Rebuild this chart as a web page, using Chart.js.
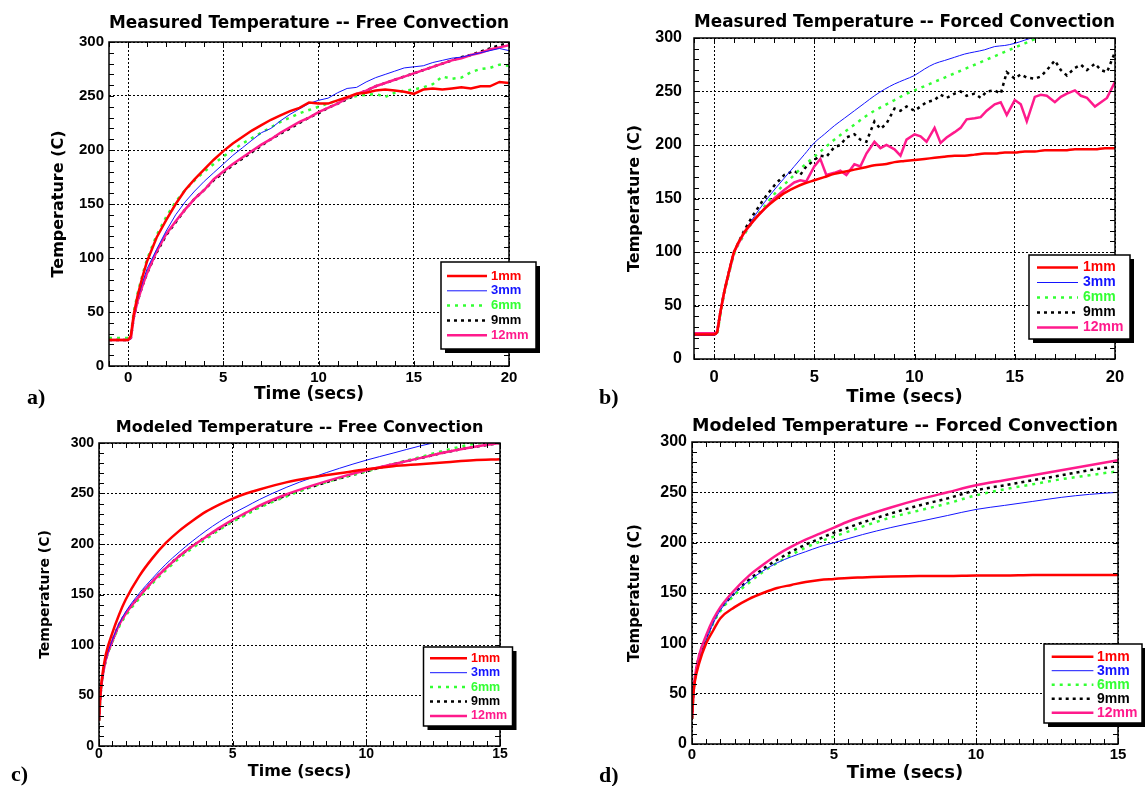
<!DOCTYPE html>
<html>
<head>
<meta charset="utf-8">
<script src="https://cdn.jsdelivr.net/npm/chart.js@4.4.0/dist/chart.umd.min.js"></script>
<style>
  html, body { margin: 0; padding: 0; background: #fff; }
  body { width: 1145px; height: 786px; position: relative; overflow: hidden; }
  .panel { position: absolute; }
  .tag { position: absolute; font: bold 22px "Liberation Serif", "Times New Roman", serif; line-height: 22px; color: #000; }
</style>
</head>
<body>
<div class="panel" style="left:0;top:0;width:560px;height:410px"><canvas id="chartA"></canvas></div>
<div class="panel" style="left:570px;top:0;width:575px;height:410px"><canvas id="chartB"></canvas></div>
<div class="panel" style="left:0;top:410px;width:560px;height:376px"><canvas id="chartC"></canvas></div>
<div class="panel" style="left:570px;top:410px;width:575px;height:376px"><canvas id="chartD"></canvas></div>
<div class="tag" style="left:27px;top:386px">a)</div>
<div class="tag" style="left:599px;top:386px">b)</div>
<div class="tag" style="left:11px;top:763px">c)</div>
<div class="tag" style="left:599px;top:764px">d)</div>
<script>
// series names (thermocouple depth)
const seriesLabels = ['1mm', '3mm', '6mm', '9mm', '12mm'];

// tick labels
const yTicks = [0, 50, 100, 150, 200, 250, 300];
const xTicksMeasured = [0, 5, 10, 15, 20];
const xTicksModeled = [0, 5, 10, 15];

// --- a) measured, free convection ---
const timeA = [-1, 0, 0.15, 0.3, 0.5, 0.75, 1, 1.5, 2, 2.5, 3, 3.5, 4, 4.5, 5, 5.5, 6, 6.5, 7, 7.5, 8, 8.5, 9, 9.5,
  10, 10.5, 11, 11.5, 12, 12.5, 13, 13.5, 14, 14.5, 15, 15.5, 16, 16.5, 17, 17.5, 18, 18.5, 19, 19.5, 20];
const freeMeas1mm = [24, 24, 28, 48, 65, 82, 97, 119, 135, 150, 163, 173, 182, 191, 199, 206, 212, 218, 223, 228, 232, 236, 239, 244,
  243, 243, 246, 249, 252, 253, 255, 256, 255, 254, 252, 256, 257, 256, 257, 258, 257, 259, 259, 263, 262];
const freeMeas3mm = [24, 24, 27, 46, 62, 77, 90, 108, 125, 140, 152, 162, 171, 179, 187, 195, 202, 209, 216, 220, 227, 233, 238, 243,
  246, 248, 253, 257, 258, 263, 267, 270, 273, 276, 277, 278, 281, 283, 285, 286, 288, 290, 292, 294, 292];
const freeMeas6mm = [26, 26, 29, 50, 67, 84, 99, 121, 138, 152, 163, 172, 180, 187, 194, 200, 206, 211, 216, 221, 226, 230, 234, 237,
  240, 243, 246, 248, 250, 251, 252, 249, 253, 255, 256, 258, 261, 268, 266, 267, 272, 275, 276, 279, 278];
const freeMeas9mm = [24, 24, 26, 45, 60, 74, 86, 105, 121, 133, 145, 155, 163, 172, 179, 186, 192, 198, 204, 210, 215, 220, 225, 230,
  234, 239, 243, 247, 251, 255, 259, 262, 265, 268, 271, 274, 277, 280, 283, 286, 288, 291, 294, 297, 299];
const freeMeas12mm = [24, 24, 26, 45, 60, 74, 86, 106, 122, 134, 145, 155, 163, 173, 180, 187, 193, 199, 205, 210, 216, 221, 226, 230,
  235, 239, 243, 248, 252, 255, 259, 262, 265, 268, 271, 274, 277, 280, 283, 285, 288, 290, 293, 295, 297];

// --- b) measured, forced convection ---
const timeB = timeA;
const forcedMeas1mm = [23, 23, 25, 42, 62, 82, 100, 118, 130, 140, 148, 155, 160, 164, 167, 170, 173, 175, 177, 179, 181, 182, 184, 185,
  186, 187, 188, 189, 190, 190, 191, 192, 192, 193, 193, 194, 194, 195, 195, 195, 196, 196, 196, 197, 197];
const forcedMeas3mm = [22, 22, 25, 42, 62, 82, 100, 118, 133, 146, 158, 169, 180, 191, 202, 210, 218, 225, 232, 239, 246, 252, 257, 261,
  265, 271, 276, 279, 282, 285, 287, 289, 292, 293, 295, 298, 301, null, null, null, null, null, null, null, null];
const forcedMeas6mm = [23, 23, 24, 40, 60, 80, 98, 116, 130, 142, 154, 163, 172, 181, 189, 197, 205, 212, 219, 226, 232, 237, 242, 247,
  251, 255, 259, 263, 267, 271, 275, 279, 283, 287, 291, 295, 299, 303, null, null, null, null, null, null, null];
const timeBNoisy = [-1, 0, 0.15, 0.3, 0.5, 0.75, 1, 1.5, 2, 2.5, 3, 3.5, 4,
  4.3, 4.6, 5, 5.3, 5.6, 6, 6.3, 6.6, 7, 7.3, 7.6, 8, 8.3, 8.6, 9, 9.3, 9.6, 10, 10.3, 10.6, 11, 11.3, 11.6, 12,
  12.3, 12.6, 13, 13.3, 13.6, 14, 14.3, 14.6, 15, 15.3, 15.6, 16, 16.3, 16.6, 17, 17.3, 17.6, 18, 18.3, 18.6, 19, 19.3, 19.6, 20];
const forcedMeas9mm = [23, 23, 25, 42, 62, 82, 100, 120, 136, 150, 162, 172, 176,
  172, 180, 186, 190, 189, 198, 200, 207, 210, 205, 203, 222, 215, 220, 234, 232, 236, 232, 236, 240, 242, 247, 244, 248,
  250, 246, 248, 244, 250, 251, 248, 268, 262, 266, 263, 262, 264, 270, 279, 270, 265, 272, 275, 270, 276, 270, 268, 287];
const forcedMeas12mm = [24, 24, 25, 42, 62, 82, 100, 118, 130, 140, 150, 158, 165,
  167, 166, 180, 187, 172, 174, 176, 172, 182, 180, 192, 203, 197, 200, 196, 190, 205, 210, 208, 203, 216, 202, 207, 212,
  216, 224, 225, 226, 232, 238, 240, 228, 242, 238, 222, 245, 247, 246, 240, 245, 248, 251, 246, 244, 236, 240, 244, 259];

// --- c) modeled, free convection ---
const timeC = [0, 0.05, 0.1, 0.25, 0.5, 0.75, 1, 1.5, 2, 2.5, 3, 3.5, 4, 4.5, 5, 5.5, 6, 7, 8, 9, 10, 11, 12, 13, 14, 15];
const freeModel1mm = [25, 50, 65, 90, 112, 130, 145, 168, 186, 201, 213, 223, 232, 239, 245, 250, 254, 261, 266, 270, 274, 277, 279, 281, 283, 284];
const freeModel3mm = [25, 48, 62, 85, 105, 121, 133, 151, 166, 180, 192, 203, 213, 222, 230, 237, 244, 256, 266, 275, 283, 290, 297, 303, null, null];
const freeModel6mm = [25, 48, 62, 84, 103, 118, 129, 146, 161, 174, 186, 196, 205, 214, 222, 229, 236, 247, 257, 265, 272, 279, 286, 293, 299, 302];
const freeModel9mm = [25, 48, 62, 85, 104, 120, 131, 148, 163, 176, 188, 198, 207, 215, 223, 230, 237, 248, 257, 265, 272, 279, 285, 291, 296, 300];
const freeModel12mm = [25, 48, 62, 85, 104, 120, 131, 148, 163, 176, 188, 198, 207, 216, 224, 231, 238, 249, 258, 266, 273, 279, 285, 291, 296, 300];

// --- d) modeled, forced convection ---
const timeD = timeC;
const forcedModel1mm = [25, 50, 62, 80, 100, 113, 125, 136, 144, 150, 155, 158, 161, 163, 164, 165, 165.5, 166.5, 167, 167, 167.5, 167.5, 168, 168, 168, 168];
const forcedModel3mm = [25, 48, 62, 82, 103, 120, 133, 150, 162, 172, 180, 186, 191, 196, 200, 204, 208, 215, 221, 227, 233, 237, 241, 245, 248, 250];
const forcedModel6mm = [25, 49, 64, 86, 104, 120, 132, 148, 160, 171, 180, 188, 195, 201, 206, 211, 216, 225, 232, 239, 247, 253, 258, 263, 267, 271];
const forcedModel9mm = [25, 50, 65, 87, 106, 122, 134, 150, 163, 174, 183, 191, 198, 204, 210, 215, 220, 229, 237, 244, 252, 257, 262, 267, 272, 276];
const forcedModel12mm = [25, 50, 66, 88, 108, 124, 136, 153, 167, 178, 188, 196, 203, 209, 215, 221, 226, 235, 243, 250, 257, 262, 267, 272, 277, 282];

// line styles per series
const seriesColors = ['#ff0000', '#1414ff', '#33ff33', '#000000', '#ff1a8c'];
const seriesWidths = [2.5, 1, 2.5, 2.5, 2.5];
const seriesDash = [[], [], [3, 5], [3, 4], []];
const seriesOrder = [1, 2, 4, 5, 3];

const titleFont = '"DejaVu Sans", Verdana, sans-serif';
const tickFont = '"Liberation Sans", Arial, sans-serif';

function lineSet(i, t, v, smooth) {
  return {
    label: seriesLabels[i],
    data: t.map((x, k) => ({ x: x, y: v[k] })),
    borderColor: seriesColors[i],
    borderWidth: seriesWidths[i],
    borderDash: seriesDash[i],
    pointRadius: 0,
    fill: false,
    order: seriesOrder[i],
    cubicInterpolationMode: smooth ? 'monotone' : 'default',
    tension: 0,
    spanGaps: false,
    clip: 0
  };
}

// frame, inward minor ticks and the boxed legend
const framePlugin = {
  id: 'frame',
  afterDatasetsDraw(chart, args, opts) {
    const { ctx, chartArea: a, scales: { x, y } } = chart;
    ctx.save();
    ctx.setLineDash([]);
    ctx.strokeStyle = '#000';
    ctx.lineWidth = 1;
    ctx.beginPath();
    const nx = Math.round((x.max - x.min) / opts.xMinor);
    for (let k = 0; k <= nx; k++) {
      const px = Math.round(x.getPixelForValue(x.min + k * opts.xMinor)) + 0.5;
      ctx.moveTo(px, a.bottom); ctx.lineTo(px, a.bottom - 5);
      ctx.moveTo(px, a.top); ctx.lineTo(px, a.top + 5);
    }
    const ny = Math.round((y.max - y.min) / opts.yMinor);
    for (let k = 0; k <= ny; k++) {
      const py = Math.round(y.getPixelForValue(y.min + k * opts.yMinor)) + 0.5;
      ctx.moveTo(a.left, py); ctx.lineTo(a.left + 5, py);
      ctx.moveTo(a.right, py); ctx.lineTo(a.right - 5, py);
    }
    ctx.stroke();
    ctx.lineWidth = 1.5;
    ctx.strokeRect(a.left, a.top, a.right - a.left, a.bottom - a.top);
    ctx.restore();
  },
  afterDraw(chart, args, opts) {
    const L = opts.legend;
    const ctx = chart.ctx;
    ctx.save();
    ctx.fillStyle = '#000';
    ctx.fillRect(L.x + 4, L.y + 4, L.w, L.h);
    ctx.fillStyle = '#fff';
    ctx.fillRect(L.x, L.y, L.w, L.h);
    ctx.strokeStyle = '#000';
    ctx.lineWidth = 1.5;
    ctx.strokeRect(L.x, L.y, L.w, L.h);
    ctx.font = 'bold ' + L.font + 'px ' + tickFont;
    ctx.textBaseline = 'middle';
    chart.data.datasets.forEach((ds, i) => {
      const yy = L.y + L.row0 + i * L.step;
      ctx.strokeStyle = ds.borderColor;
      ctx.lineWidth = ds.borderWidth;
      ctx.setLineDash(ds.borderDash);
      ctx.beginPath();
      ctx.moveTo(L.x + L.line0, yy);
      ctx.lineTo(L.x + L.line1, yy);
      ctx.stroke();
      ctx.fillStyle = ds.borderColor;
      ctx.fillText(ds.label, L.x + L.text, yy);
    });
    ctx.restore();
  }
};

function buildChart(id, p, datasets) {
  return new Chart(document.getElementById(id), {
    type: 'line',
    data: { datasets: datasets },
    options: {
      animation: false,
      responsive: true,
      maintainAspectRatio: false,
      layout: { padding: { left: 0, right: p.padRight, top: 0, bottom: 0 } },
      plugins: {
        legend: { display: false },
        tooltip: { enabled: false },
        title: {
          display: true, text: p.title, fullSize: false, color: '#000',
          font: { family: titleFont, size: p.titleSize, weight: 'bold', lineHeight: 1.2 },
          padding: { top: p.titleTop, bottom: p.titleBottom }
        },
        frame: { xMinor: p.xMinor, yMinor: 10, legend: p.legend }
      },
      scales: {
        x: {
          type: 'linear', min: p.xMin, max: p.xMax,
          afterBuildTicks: s => { s.ticks = p.xTicks.map(v => ({ value: v })); },
          afterFit: s => { s.height = p.xHeight; },
          grid: { color: '#000', lineWidth: 1, drawTicks: false },
          border: { display: false, dash: [2, 2] },
          ticks: { color: '#000', padding: p.xTickPad, maxRotation: 0, autoSkip: false,
            font: { family: tickFont, size: p.xTickSize, weight: 'bold' } },
          title: { display: true, text: 'Time (secs)', color: '#000',
            font: { family: titleFont, size: p.xTitleSize, weight: 'bold', lineHeight: 1.2 },
            padding: { top: 0, bottom: p.xTitlePad } }
        },
        y: {
          type: 'linear', min: 0, max: 300,
          afterBuildTicks: s => { s.ticks = yTicks.map(v => ({ value: v })); },
          afterFit: s => { s.width = p.yWidth; },
          grid: { color: '#000', lineWidth: 1, drawTicks: false },
          border: { display: false, dash: [2, 2] },
          ticks: { color: '#000', padding: p.yTickPad, autoSkip: false,
            font: { family: tickFont, size: p.yTickSize, weight: 'bold' } },
          title: { display: true, text: 'Temperature (C)', color: '#000',
            font: { family: titleFont, size: p.yTitleSize, weight: 'bold', lineHeight: 1.2 },
            padding: { top: p.yTitlePad, bottom: 0 } }
        }
      }
    },
    plugins: [framePlugin]
  });
}

buildChart('chartA', {
  title: 'Measured Temperature -- Free Convection', titleSize: 17, titleTop: 13, titleBottom: 8.6,
  padRight: 51, xMin: -1, xMax: 20, xTicks: xTicksMeasured, xMinor: 1,
  xHeight: 44, xTickSize: 15, xTickPad: 2.5, xTitleSize: 17, xTitlePad: 4.8,
  yWidth: 109, yTickSize: 15, yTickPad: 5, yTitleSize: 16, yTitlePad: 49,
  legend: { x: 441, y: 262, w: 95, h: 87, row0: 14, step: 14.8, line0: 6, line1: 46, text: 50, font: 13 }
}, [
  lineSet(0, timeA, freeMeas1mm, false),
  lineSet(1, timeA, freeMeas3mm, false),
  lineSet(2, timeA, freeMeas6mm, false),
  lineSet(3, timeA, freeMeas9mm, false),
  lineSet(4, timeA, freeMeas12mm, false)
]);

buildChart('chartB', {
  title: 'Measured Temperature -- Forced Convection', titleSize: 18, titleTop: 12, titleBottom: 4.4,
  padRight: 30, xMin: -1, xMax: 20, xTicks: xTicksMeasured, xMinor: 1,
  xHeight: 51, xTickSize: 16.5, xTickPad: 8.6, xTitleSize: 18, xTitlePad: 2.2,
  yWidth: 124, yTickSize: 16, yTickPad: 12, yTitleSize: 16, yTitlePad: 55,
  legend: { x: 459, y: 255, w: 101, h: 84, row0: 12.5, step: 15, line0: 8, line1: 49, text: 54, font: 14 }
}, [
  lineSet(0, timeB, forcedMeas1mm, true),
  lineSet(1, timeB, forcedMeas3mm, true),
  lineSet(2, timeB, forcedMeas6mm, true),
  lineSet(3, timeBNoisy, forcedMeas9mm, false),
  lineSet(4, timeBNoisy, forcedMeas12mm, false)
]);

buildChart('chartC', {
  title: 'Modeled Temperature -- Free Convection', titleSize: 16, titleTop: 8.4, titleBottom: 5.4,
  padRight: 60, xMin: 0, xMax: 15, xTicks: xTicksModeled, xMinor: 0.5,
  xHeight: 40, xTickSize: 14, xTickPad: 0, xTitleSize: 16, xTitlePad: 4.4,
  yWidth: 99, yTickSize: 14, yTickPad: 5, yTitleSize: 14, yTitlePad: 36.6,
  legend: { x: 423.5, y: 237, w: 89, h: 79, row0: 11.3, step: 14.4, line0: 6.5, line1: 43.5, text: 47.5, font: 12.5 }
}, [
  lineSet(0, timeC, freeModel1mm, true),
  lineSet(1, timeC, freeModel3mm, true),
  lineSet(2, timeC, freeModel6mm, true),
  lineSet(3, timeC, freeModel9mm, true),
  lineSet(4, timeC, freeModel12mm, true)
]);

buildChart('chartD', {
  title: 'Modeled Temperature -- Forced Convection', titleSize: 18, titleTop: 5.2, titleBottom: 5.2,
  padRight: 27, xMin: 0, xMax: 15, xTicks: xTicksModeled, xMinor: 0.5,
  xHeight: 42, xTickSize: 15, xTickPad: 1.5, xTitleSize: 18, xTitlePad: 2.2,
  yWidth: 122, yTickSize: 16, yTickPad: 5, yTitleSize: 15, yTitlePad: 56,
  legend: { x: 474, y: 234, w: 98, h: 79, row0: 12.7, step: 14, line0: 7.7, line1: 49.4, text: 53, font: 14 }
}, [
  lineSet(0, timeD, forcedModel1mm, true),
  lineSet(1, timeD, forcedModel3mm, true),
  lineSet(2, timeD, forcedModel6mm, true),
  lineSet(3, timeD, forcedModel9mm, true),
  lineSet(4, timeD, forcedModel12mm, true)
]);
</script>
</body>
</html>
